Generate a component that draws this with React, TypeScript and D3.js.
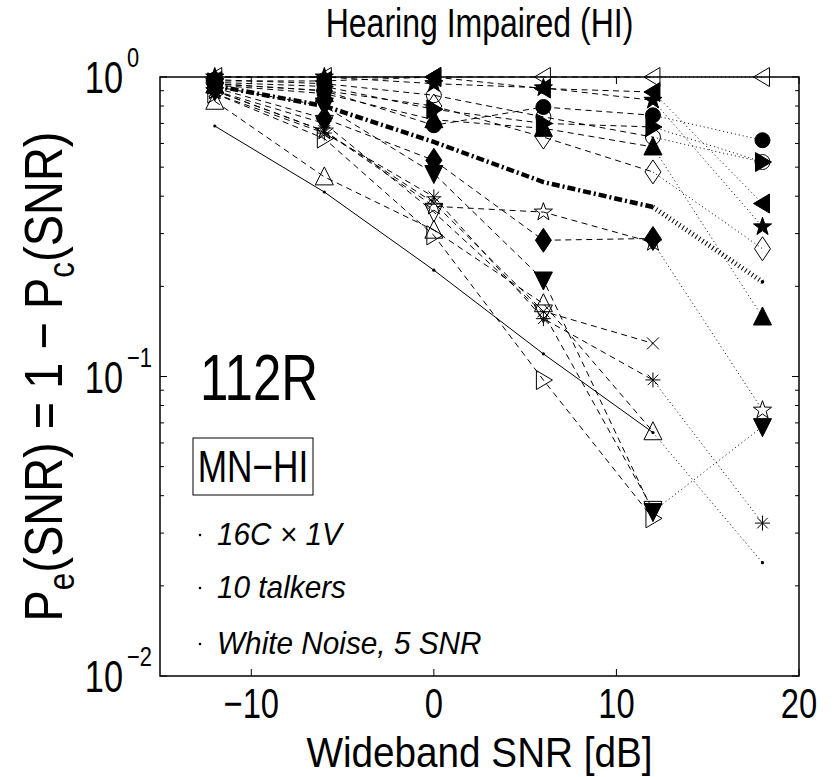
import React from "react";
import * as d3 from "d3";

// ---------- DATA ----------
const snrValues = [-12, -6, 0, 6, 12, 18];
const xTickValues = [-10, 0, 10, 20];
const yMajorTicks = [1, 0.1, 0.01];
const yTickExponents = ["0", "\u22121", "\u22122"];

// per-consonant error curves (null = zero error, not drawable on log axis)
const openLeftTri = [1, 1, 1, 1, 1, 1];
const filledLeftTri = [0.97, 0.97, 1.0, 0.915, 0.891, 0.378];
const filledStar = [1.0, 1.0, 0.95, 0.92, 0.836, 0.316];
const filledCircle = [0.95, 0.9, 0.69, 0.794, 0.745, 0.615];
const openCircle = [0.98, 0.95, 0.869, 0.736, 0.63, 0.52];
const filledRightTri = [0.96, 0.93, 0.78, 0.7, 0.681, 0.52];
const filledUpTri = [0.94, 0.88, 0.72, 0.674, 0.584, 0.158];
const openDiamond = [0.95, 0.9, 0.8, 0.63, 0.482, 0.267];
const filledDiamond = [0.92, 0.727, 0.527, 0.285, 0.289, null];
const filledDownTri = [0.93, 0.8, 0.476, 0.21, 0.0354, 0.068];
const openStar = [0.9, 0.66, 0.37, 0.354, 0.28, 0.0772];
const asterisk = [0.88, 0.65, 0.398, 0.156, 0.0974, 0.0324];
const xMark = [0.9, 0.66, 0.38, 0.165, 0.129, null];
const openUpTri = [0.83, 0.464, 0.308, 0.175, 0.0654, null];
const openRightTri = [0.88, 0.623, 0.296, 0.0973, 0.0336, null];
const openDownTri = [0.9, 0.7, 0.354, 0.163, 0.036, null];

const averageCurve = [0.935, 0.8, 0.607, 0.446, 0.368, 0.207];
const modelCurve = [0.686, 0.413, 0.2265, 0.119, 0.065, 0.0239];

const annotations = ["16C \u00d7 1V", "10 talkers", "White Noise, 5 SNR"];

type Series = { marker: string; filled: boolean; values: (number | null)[] };
const series: Series[] = [
  { marker: "left", filled: false, values: openLeftTri },
  { marker: "left", filled: true, values: filledLeftTri },
  { marker: "star", filled: true, values: filledStar },
  { marker: "circle", filled: true, values: filledCircle },
  { marker: "circle", filled: false, values: openCircle },
  { marker: "right", filled: true, values: filledRightTri },
  { marker: "up", filled: true, values: filledUpTri },
  { marker: "diamond", filled: false, values: openDiamond },
  { marker: "diamond", filled: true, values: filledDiamond },
  { marker: "down", filled: true, values: filledDownTri },
  { marker: "star", filled: false, values: openStar },
  { marker: "asterisk", filled: false, values: asterisk },
  { marker: "x", filled: false, values: xMark },
  { marker: "up", filled: false, values: openUpTri },
  { marker: "right", filled: false, values: openRightTri },
  { marker: "down", filled: false, values: openDownTri },
];

// ---------- LAYOUT ----------
const W = 836;
const H = 777;
const L = 160, R = 799, T = 77, B = 676;
const FONT = "'Liberation Sans', Arial, Helvetica, sans-serif";

const x = d3.scaleLinear().domain([-15, 20]).range([L, R]);
const y = d3.scaleLog().domain([0.01, 1]).range([B, T]);

function starPath(Ro: number, Ri: number) {
  const pts: string[] = [];
  for (let i = 0; i < 10; i++) {
    const r = i % 2 === 0 ? Ro : Ri;
    const a = -Math.PI / 2 + (i * Math.PI) / 5;
    pts.push(`${(r * Math.cos(a)).toFixed(2)},${(r * Math.sin(a)).toFixed(2)}`);
  }
  return "M" + pts.join("L") + "Z";
}

function markerPath(kind: string) {
  switch (kind) {
    case "circle":
      return "M7.5,0A7.5,7.5 0 1,1 -7.5,0A7.5,7.5 0 1,1 7.5,0Z";
    case "up":
      return "M0,-10L9,8L-9,8Z";
    case "down":
      return "M0,10L9,-8L-9,-8Z";
    case "left":
      return "M-9,0L7,-9.5L7,9.5Z";
    case "right":
      return "M9,0L-7,-9.5L-7,9.5Z";
    case "diamond":
      return "M0,-12L8,0L0,12L-8,0Z";
    case "star":
      return starPath(9.5, 3.8);
    case "asterisk":
      return "M-7.5,0L7.5,0M0,-7.5L0,7.5M-5.3,-5.3L5.3,5.3M-5.3,5.3L5.3,-5.3";
    case "x":
      return "M-6,-6L6,6M-6,6L6,-6";
    default:
      return "";
  }
}

const lineGen = d3
  .line<[number, number]>()
  .x((d) => x(d[0]))
  .y((d) => y(d[1]));

function mainPts(vals: (number | null)[]): [number, number][] {
  const pts: [number, number][] = [];
  for (let i = 0; i < 5; i++) {
    const v = vals[i];
    if (v != null) pts.push([snrValues[i], v]);
  }
  return pts;
}
function tailPts(vals: (number | null)[]): [number, number][] | null {
  const a = vals[4], b = vals[5];
  if (a == null || b == null) return null;
  return [
    [snrValues[4], a],
    [snrValues[5], b],
  ];
}

const minorTicks: number[] = [];
[0.01, 0.1].forEach((d) => {
  for (let k = 2; k <= 9; k++) minorTicks.push(d * k);
});

export default function App() {
  const K = 0.78;
  return (
    <svg
      width={W}
      height={H}
      style={{ position: "absolute", left: 0, top: 0, background: "#fff" }}
      fontFamily={FONT}
    >
      <rect x={0} y={0} width={W} height={H} fill="#fff" />

      {/* data lines */}
      {series.map((s, i) => (
        <g key={"l" + i} fill="none" stroke="#000">
          <path d={lineGen(mainPts(s.values)) || ""} strokeWidth={1} strokeDasharray="6,4.5" />
          {tailPts(s.values) && (
            <path d={lineGen(tailPts(s.values)!) || ""} strokeWidth={1} strokeDasharray="1,3" />
          )}
        </g>
      ))}

      {/* model (solid) */}
      <path d={lineGen(mainPts(modelCurve)) || ""} fill="none" stroke="#000" strokeWidth={1} />
      <path d={lineGen(tailPts(modelCurve)!) || ""} fill="none" stroke="#000" strokeWidth={1} strokeDasharray="1,3" />
      {modelCurve.map((v, i) => (
        <circle key={"m" + i} cx={x(snrValues[i])} cy={y(v)} r={1.6} fill="#000" />
      ))}

      {/* average (thick dash-dot) */}
      <path d={lineGen(mainPts(averageCurve)) || ""} fill="none" stroke="#000" strokeWidth={4.5} strokeDasharray="8,3,2,3" />
      <path d={lineGen(tailPts(averageCurve)!) || ""} fill="none" stroke="#000" strokeWidth={5} strokeDasharray="1,3" />
      <circle cx={x(snrValues[5])} cy={y(averageCurve[5])} r={1.8} fill="#000" />

      {/* markers */}
      {series.map((s, i) => (
        <g key={"mk" + i}>
          {s.values.map((v, j) =>
            v == null ? null : (
              <path
                key={j}
                d={markerPath(s.marker)}
                transform={`translate(${x(snrValues[j])},${y(v)})`}
                fill={s.filled ? "#000" : "none"}
                stroke="#000"
                strokeWidth={1}
              />
            )
          )}
        </g>
      ))}

      {/* axes box */}
      <rect x={L} y={T} width={R - L} height={B - T} fill="none" stroke="#000" strokeWidth={1.5} />

      {/* x ticks */}
      {xTickValues.map((t) => (
        <g key={"xt" + t}>
          <line x1={x(t)} x2={x(t)} y1={B} y2={B - 7} stroke="#000" strokeWidth={1} />
          <line x1={x(t)} x2={x(t)} y1={T} y2={T + 7} stroke="#000" strokeWidth={1} />
          <text
            transform={`translate(${x(t)},${718}) scale(${K},1)`}
            textAnchor="middle"
            fontSize={42}
          >
            {t < 0 ? "\u2212" + Math.abs(t) : String(t)}
          </text>
        </g>
      ))}

      {/* y ticks */}
      {yMajorTicks.map((t, i) => (
        <g key={"yt" + t}>
          <line x1={L} x2={L + 7} y1={y(t)} y2={y(t)} stroke="#000" strokeWidth={1} />
          <line x1={R} x2={R - 7} y1={y(t)} y2={y(t)} stroke="#000" strokeWidth={1} />
          <text transform={`translate(123,${y(t) + 16}) scale(${K},1)`} textAnchor="end" fontSize={44}>
            10
          </text>
          <text transform={`translate(127,${y(t) - 10}) scale(${K},1)`} textAnchor="start" fontSize={28}>
            {yTickExponents[i]}
          </text>
        </g>
      ))}
      {minorTicks.map((t) => (
        <g key={"ym" + t}>
          <line x1={L} x2={L + 4} y1={y(t)} y2={y(t)} stroke="#000" strokeWidth={1} />
          <line x1={R} x2={R - 4} y1={y(t)} y2={y(t)} stroke="#000" strokeWidth={1} />
        </g>
      ))}

      {/* title */}
      <text transform={`translate(${(L + R) / 2},37) scale(0.8,1)`} textAnchor="middle" fontSize={40}>
        Hearing Impaired (HI)
      </text>

      {/* x label */}
      <text transform={`translate(${(L + R) / 2},767) scale(0.9,1)`} textAnchor="middle" fontSize={43}>
        Wideband SNR [dB]
      </text>

      {/* y label */}
      <text transform={`translate(62,${(T + B) / 2}) rotate(-90) scale(0.87,1)`} textAnchor="middle" fontSize={54}>
        P<tspan fontSize={36} dy={12}>e</tspan>
        <tspan dy={-12}>(SNR) = 1 {"\u2212"} P</tspan>
        <tspan fontSize={36} dy={12}>c</tspan>
        <tspan dy={-12}>(SNR)</tspan>
      </text>

      {/* 112R */}
      <text transform={`translate(200,400) scale(0.785,1)`} fontSize={65}>
        112R
      </text>

      {/* MN-HI box */}
      <rect x={193} y={438} width={120} height={57} fill="#fff" stroke="#000" strokeWidth={1} />
      <text transform={`translate(253,482) scale(0.8,1)`} textAnchor="middle" fontSize={44}>
        MN{"\u2212"}HI
      </text>

      {/* annotations */}
      {annotations.map((a, i) => {
        const by = [545, 598, 654][i];
        return (
          <g key={"an" + i}>
            <circle cx={200} cy={by - 10} r={1.3} fill="#000" />
            <text transform={`translate(217,${by}) scale(0.93,1)`} fontSize={32} fontStyle="italic">
              {a}
            </text>
          </g>
        );
      })}
    </svg>
  );
}
